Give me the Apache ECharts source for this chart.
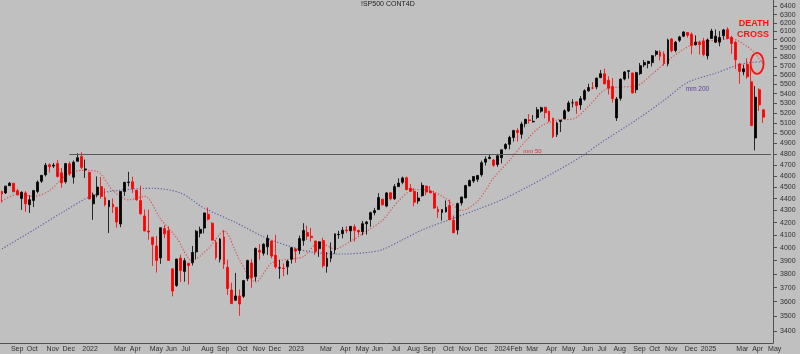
<!DOCTYPE html>
<html>
<head>
<meta charset="utf-8">
<script src="https://cdn.jsdelivr.net/npm/echarts@6/dist/echarts.min.js"></script>
<style>
  html, body { margin: 0; padding: 0; background: #c0c0c0; }
  #chart { width: 800px; height: 354px; }
</style>
</head>
<body>
<div id="chart"></div>
<script>
// weekly bars, week starting monday, [open, high, low, close]
const firstWeek = '2021-08-16'
const emptyWeeksAfter = 2

const ohlc2021 = [
  [4462, 4470, 4367, 4441], [4450, 4513, 4441, 4509], [4513, 4545, 4513, 4535], [4535, 4535, 4458, 4459],
  [4469, 4486, 4427, 4433], [4402, 4465, 4305, 4455], [4450, 4466, 4289, 4357], [4349, 4429, 4279, 4391],
  [4385, 4474, 4329, 4471], [4463, 4559, 4447, 4545], [4553, 4608, 4537, 4605], [4610, 4718, 4595, 4697],
  [4701, 4714, 4630, 4683], [4689, 4718, 4672, 4698], [4712, 4744, 4585, 4595], [4628, 4672, 4495, 4538],
  [4548, 4713, 4532, 4712], [4710, 4731, 4600, 4620], [4588, 4740, 4531, 4725], [4733, 4808, 4733, 4766]
]
const ohlc2022 = [
  [4778, 4818, 4662, 4677], [4655, 4749, 4582, 4663], [4632, 4632, 4395, 4398], [4356, 4453, 4222, 4432],
  [4432, 4595, 4412, 4501], [4505, 4590, 4401, 4419], [4412, 4490, 4335, 4349], [4332, 4385, 4115, 4385],
  [4354, 4402, 4279, 4329], [4327, 4327, 4158, 4204], [4188, 4465, 4162, 4463], [4462, 4546, 4424, 4543],
  [4541, 4637, 4507, 4546], [4547, 4593, 4450, 4488], [4474, 4471, 4381, 4392], [4385, 4513, 4267, 4272],
  [4255, 4308, 4129, 4132], [4131, 4307, 4062, 4123], [4082, 4082, 3859, 4024], [4013, 4091, 3810, 3901],
  [3920, 4158, 3875, 4158], [4151, 4178, 4074, 4109], [4134, 4169, 3900, 3901], [3838, 3838, 3637, 3675],
  [3715, 3913, 3705, 3912], [3920, 3946, 3741, 3825], [3818, 3919, 3743, 3899], [3880, 3880, 3722, 3863],
  [3883, 4013, 3863, 3962], [3966, 4140, 3913, 4130], [4113, 4167, 4080, 4145], [4155, 4280, 4112, 4280],
  [4269, 4325, 4218, 4228], [4195, 4203, 4057, 4058], [4041, 4062, 3907, 3924], [3910, 4076, 3886, 4067],
  [4084, 4140, 3837, 3873], [3849, 3907, 3647, 3693], [3682, 3736, 3584, 3586], [3609, 3807, 3607, 3640],
  [3640, 3686, 3502, 3583], [3638, 3752, 3626, 3752], [3765, 3906, 3747, 3901], [3882, 3911, 3698, 3771],
  [3780, 4001, 3745, 3993], [3977, 4028, 3907, 3965], [3956, 4034, 3938, 4026], [4006, 4101, 3943, 4072],
  [4052, 4052, 3918, 3934], [3940, 4101, 3838, 3852], [3844, 3906, 3764, 3845], [3843, 3878, 3783, 3840]
]
const ohlc2023 = [
  [3853, 3906, 3794, 3895], [3910, 4003, 3877, 3999], [3989, 3999, 3885, 3973], [3978, 4095, 3949, 4071],
  [4055, 4195, 4015, 4136], [4120, 4176, 4060, 4090], [4090, 4157, 4047, 4079], [4052, 4052, 3944, 3970],
  [3992, 4048, 3928, 4045], [4055, 4078, 3847, 3861], [3856, 3965, 3809, 3917], [3917, 4040, 3888, 3971],
  [3982, 4110, 3951, 4109], [4102, 4133, 4069, 4105], [4110, 4164, 4073, 4138], [4140, 4170, 4114, 4133],
  [4132, 4170, 4048, 4169], [4166, 4186, 4048, 4136], [4136, 4143, 4098, 4124], [4126, 4213, 4098, 4191],
  [4190, 4212, 4103, 4205], [4226, 4290, 4166, 4282], [4282, 4322, 4260, 4299], [4308, 4448, 4308, 4410],
  [4396, 4400, 4341, 4348], [4337, 4458, 4328, 4450], [4451, 4456, 4385, 4399], [4400, 4527, 4390, 4505],
  [4505, 4578, 4506, 4536], [4543, 4594, 4526, 4582], [4584, 4594, 4474, 4478], [4491, 4528, 4457, 4464],
  [4464, 4491, 4335, 4370], [4380, 4458, 4356, 4406], [4426, 4541, 4417, 4516], [4510, 4514, 4430, 4457],
  [4467, 4509, 4448, 4450], [4445, 4466, 4316, 4320], [4310, 4334, 4238, 4288], [4284, 4309, 4216, 4308],
  [4289, 4385, 4283, 4327], [4342, 4393, 4223, 4224], [4218, 4259, 4128, 4117], [4140, 4366, 4103, 4358],
  [4364, 4415, 4342, 4415], [4407, 4521, 4403, 4514], [4511, 4568, 4507, 4559], [4554, 4595, 4537, 4595],
  [4569, 4609, 4546, 4604], [4610, 4738, 4593, 4719], [4725, 4778, 4695, 4754], [4759, 4793, 4751, 4770]
]
const ohlc2024 = [
  [4745, 4755, 4682, 4697], [4703, 4802, 4682, 4784], [4766, 4842, 4714, 4840], [4853, 4903, 4841, 4891],
  [4892, 4975, 4845, 4959], [4957, 5030, 4918, 5027], [5026, 5048, 4920, 5006], [4989, 5111, 4946, 5089],
  [5093, 5140, 5057, 5137], [5131, 5189, 5094, 5124], [5112, 5179, 5104, 5117], [5155, 5261, 5139, 5234],
  [5219, 5265, 5203, 5254], [5258, 5264, 5146, 5204], [5218, 5222, 5107, 5123], [5149, 5149, 4953, 4967],
  [4987, 5114, 4963, 5100], [5115, 5129, 5011, 5128], [5142, 5239, 5142, 5223], [5221, 5325, 5211, 5303],
  [5305, 5342, 5257, 5305], [5315, 5315, 5191, 5278], [5283, 5375, 5234, 5347], [5341, 5447, 5325, 5431],
  [5431, 5505, 5420, 5465], [5460, 5523, 5447, 5460], [5471, 5570, 5446, 5567], [5572, 5655, 5566, 5615],
  [5614, 5670, 5497, 5505], [5544, 5586, 5391, 5459], [5476, 5566, 5306, 5347], [5151, 5365, 5120, 5344],
  [5351, 5564, 5327, 5554], [5557, 5643, 5542, 5634], [5640, 5651, 5561, 5648], [5623, 5623, 5402, 5408],
  [5442, 5636, 5406, 5626], [5615, 5733, 5601, 5703], [5711, 5767, 5687, 5738], [5727, 5757, 5674, 5751],
  [5737, 5822, 5695, 5815], [5830, 5878, 5807, 5865], [5857, 5879, 5762, 5808], [5833, 5863, 5703, 5729],
  [5724, 6012, 5696, 5996], [6008, 6018, 5853, 5871], [5875, 5984, 5853, 5969], [5992, 6045, 5972, 6032],
  [6040, 6099, 6030, 6090], [6083, 6088, 6024, 6051], [6063, 6085, 5832, 5931], [5940, 6050, 5932, 5970],
  [5970, 5986, 5829, 5942]
]
const ohlc2025 = [
  [5983, 6021, 5809, 5827], [5814, 6014, 5773, 5997], [6014, 6128, 6012, 6101], [5970, 6120, 5960, 6041],
  [5970, 6101, 5923, 6026], [6046, 6127, 6003, 6115], [6121, 6147, 6009, 6013], [6027, 6043, 5837, 5955],
  [5969, 5986, 5666, 5770], [5721, 5733, 5505, 5639], [5635, 5715, 5597, 5668], [5718, 5786, 5559, 5581],
  [5527, 5695, 5069, 5074], [4953, 5481, 4835, 5363], [5442, 5459, 5221, 5283], [5233, 5233, 5101, 5158]
]

// moving averages, [week index, value]
const mm50 = [
  [0, 4380], [4, 4440], [8, 4420], [12, 4470], [16, 4600], [20, 4650], [24, 4640], [28, 4470],
  [32, 4390], [36, 4420], [40, 4230], [44, 4080], [48, 3900], [52, 3990], [56, 4130], [60, 3900],
  [64, 3740], [68, 3880], [72, 3910], [76, 3930], [80, 4040], [84, 3990], [88, 4050], [92, 4130],
  [96, 4220], [100, 4380], [104, 4480], [108, 4470], [112, 4400], [116, 4300], [120, 4380], [124, 4580],
  [128, 4740], [132, 4920], [136, 5070], [140, 5130], [144, 5140], [148, 5270], [152, 5440], [156, 5470],
  [160, 5480], [164, 5610], [168, 5760], [172, 5890], [176, 5980], [180, 5990], [184, 6010], [188, 5920],
  [190, 5840], [192, 5720]
]
const mm200 = [
  [0, 3990], [8, 4140], [16, 4300], [23, 4430], [30, 4475], [38, 4490], [45, 4450], [51, 4320],
  [59, 4200], [66, 4085], [73, 4005], [78, 3965], [86, 3950], [93, 3965], [96, 3985], [101, 4060],
  [106, 4140], [113, 4225], [120, 4310], [126, 4390], [133, 4510], [139, 4626], [146, 4773], [151, 4905],
  [160, 5130], [167, 5330], [173, 5520], [180, 5620], [185, 5700], [188, 5735], [192, 5745]
]

const yLabels = [3400, 3500, 3600, 3700, 3800, 3900, 4000, 4100, 4200, 4300, 4400, 4500, 4600, 4700, 4800,
  4900, 5000, 5100, 5200, 5300, 5400, 5500, 5600, 5700, 5800, 5900, 6000, 6100, 6200, 6300, 6400]
const monthNames = ['', 'Feb', 'Mar', 'Apr', 'May', 'Jun', 'Jul', 'Aug', 'Sep', 'Oct', 'Nov', 'Dec']
const hiddenMonths = ['2022-02', '2023-02', '2025-02']
const supportLevel = 4800

const ohlc = [].concat(ohlc2021, ohlc2022, ohlc2023, ohlc2024, ohlc2025)

// week categories
let weeks = []
let monthLabel = []
let d0 = new Date(firstWeek + 'T00:00:00Z')
for (let i = 0; i < ohlc.length + emptyWeeksAfter; i++) {
  let mon = new Date(d0.getTime() + i * 7 * 86400000)
  let fri = new Date(mon.getTime() + 4 * 86400000)
  let prevFri = new Date(fri.getTime() - 7 * 86400000)
  weeks.push(mon.toISOString().slice(0, 10))
  if (i > 0 && fri.getUTCMonth() !== prevFri.getUTCMonth()) {
    let m = fri.getUTCMonth()
    let key = fri.getUTCFullYear() + '-' + String(m + 1).padStart(2, '0')
    let txt = m === 0 ? String(fri.getUTCFullYear()) : monthNames[m]
    if (hiddenMonths.indexOf(key) >= 0) txt = ''
    monthLabel.push(txt)
  } else {
    monthLabel.push(null)
  }
}

const chart = echarts.init(document.getElementById('chart'))

chart.setOption({
  animation: false,
  backgroundColor: '#c0c0c0',
  grid: { left: 0, right: 27, top: 0, bottom: 11 },
  xAxis: {
    type: 'category',
    data: weeks,
    boundaryGap: true,
    axisLine: { lineStyle: { color: '#505050', width: 1 } },
    axisTick: {
      interval: (i) => monthLabel[i] !== null,
      length: 11,
      lineStyle: { color: '#505050' }
    },
    axisLabel: {
      interval: (i) => !!monthLabel[i],
      formatter: (v, i) => monthLabel[i] || '',
      align: 'left',
      padding: [0, 0, 0, 1],
      margin: 3,
      fontSize: 7,
      fontFamily: 'Liberation Sans, Arial, sans-serif',
      color: '#303030'
    },
    splitLine: { show: false }
  },
  yAxis: {
    type: 'log',
    logBase: 10,
    position: 'right',
    min: 3321,
    max: 6482,
    axisLine: { show: true, lineStyle: { color: '#505050' } },
    axisTick: { show: true, customValues: yLabels, length: 4, lineStyle: { color: '#505050' } },
    axisLabel: {
      customValues: yLabels,
      formatter: (v) => String(Math.round(v)),
      margin: 7,
      fontSize: 7,
      fontFamily: 'Liberation Sans, Arial, sans-serif',
      color: '#303030'
    },
    splitLine: { show: false }
  },
  series: [
    {
      type: 'candlestick',
      data: ohlc.map(r => [r[0], r[3], r[2], r[1]]),
      barWidth: 2.4,
      itemStyle: {
        color: '#000000',
        color0: '#ff0000',
        borderColor: '#000000',
        borderColor0: '#ff0000',
        borderWidth: 0.8
      },
      markLine: {
        silent: true,
        symbol: 'none',
        label: { show: false },
        lineStyle: { color: '#5a5a5a', width: 1, type: 'solid' },
        data: [[{ coord: [17, supportLevel] }, { coord: [weeks.length - 1, supportLevel] }]]
      }
    },
    {
      name: 'mm 50',
      type: 'line',
      data: mm50,
      showSymbol: false,
      smooth: 0.3,
      z: 1,
      lineStyle: { color: '#e04848', width: 1.1, type: [1.2, 1.8] }
    },
    {
      name: 'mm 200',
      type: 'line',
      data: mm200,
      showSymbol: false,
      smooth: 0.3,
      z: 1,
      lineStyle: { color: '#5858a8', width: 1.1, type: [1.2, 1.8] }
    }
  ]
})

// annotations
const crossPt = chart.convertToPixel({ seriesIndex: 0 }, [191, 5740])
const mm50Pt = chart.convertToPixel({ seriesIndex: 0 }, [132, 4800])
const mm200Pt = chart.convertToPixel({ seriesIndex: 0 }, [174, 5450])

chart.setOption({
  graphic: [
    {
      type: 'text', left: 361, top: 1,
      style: { text: '!SP500 CONT4D', fontSize: 7, fontFamily: 'Liberation Sans, Arial, sans-serif', fill: '#202020' }
    },
    {
      type: 'text', x: 769, y: 18,
      style: {
        text: 'DEATH\nCROSS', fontSize: 9, fontWeight: 'bold', lineHeight: 11, align: 'right',
        fontFamily: 'Liberation Sans, Arial, sans-serif', fill: '#ff1010'
      }
    },
    {
      type: 'ellipse',
      shape: { cx: crossPt[0] - 2, cy: crossPt[1] + 1, rx: 6.5, ry: 10.5 },
      style: { fill: 'none', stroke: '#ff1010', lineWidth: 1.8 }
    },
    {
      type: 'text', x: mm50Pt[0] - 2, y: mm50Pt[1] - 6,
      style: { text: 'mm 50', fontSize: 6, fontFamily: 'Liberation Sans, Arial, sans-serif', fill: '#e03030' }
    },
    {
      type: 'text', x: mm200Pt[0] - 6, y: mm200Pt[1] - 3,
      style: { text: 'mm 200', fontSize: 6.5, fontFamily: 'Liberation Sans, Arial, sans-serif', fill: '#6040a0' }
    }
  ]
})
</script>
</body>
</html>
